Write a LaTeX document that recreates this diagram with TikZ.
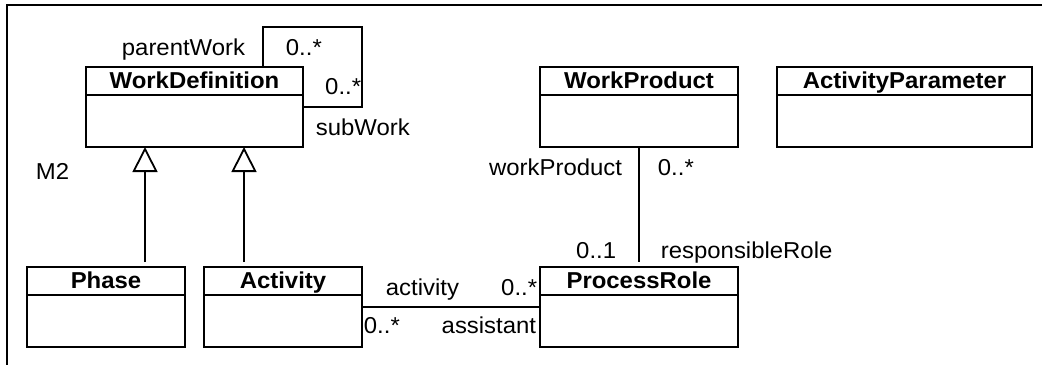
\documentclass[tikz,border=0pt]{standalone}
\usepackage{fontspec}
\setmainfont{Liberation Sans}[FakeStretch = 1.04]
\usetikzlibrary{positioning,arrows.meta}
\tikzset{
	umlhead/.style = {draw, anchor = north west, minimum height = 14pt, inner sep = 0pt, outer sep = 0pt, text height = 8.5pt, text depth = 1.5pt, font = \fontsize{11.5}{13}\selectfont\bfseries},
	umlbody/.style = {draw, minimum height = 26pt, inner sep = 0pt, outer sep = 0pt, below = 0pt of #1},
	gen/.style = {-{Triangle[open, length = 12.5pt, width = 12.5pt]}, shorten <= 2.5pt},
	lbl/.style = {inner sep = 0pt}
}
\begin{document}
\begin{tikzpicture}[x = 0.5pt, y = -0.5pt, line width = 0.9pt, font = \fontsize{11.5}{13}\selectfont]
	\useasboundingbox (0, 0) rectangle (1042, 365);
	\draw (1042, 5) -| (7, 365);
	\node[lbl, anchor = base west] (m2) at (35, 179) {M2};
		\node[umlhead, minimum width = 108.5pt] (wd) at (86, 67) {WorkDefinition};
		\node[umlbody = wd, minimum width = 108.5pt] (wdb) {};
		\node[umlhead, minimum width = 79pt] (ph) at (27, 267) {Phase};
		\node[umlbody = ph, minimum width = 79pt] (phb) {};
		\node[umlhead, minimum width = 79pt] (act) at (204, 267) {Activity};
		\node[umlbody = act, minimum width = 79pt] (actb) {};
		\node[umlhead, minimum width = 99pt] (pr) at (540, 267) {ProcessRole};
		\node[umlbody = pr, minimum width = 99pt] (prb) {};
		\node[umlhead, minimum width = 99pt] (wp) at (540, 67) {WorkProduct};
		\node[umlbody = wp, minimum width = 99pt] (wpb) {};
		\node[umlhead, minimum width = 127.5pt] (ap) at (777, 67) {ActivityParameter};
		\node[umlbody = ap, minimum width = 127.5pt] (apb) {};
	\coordinate (loop) at (362, 27);
		\draw ([xshift = 34.25pt]wd.north) |- (loop) |- ([yshift = -6pt]wdb.north east);
		\node[lbl, anchor = base east] (pw) at (246, 55) {parentWork};
		\node[lbl, anchor = base west] (pwm) at (285, 55) {0..*};
		\node[lbl, anchor = base east] (swm) at (362, 94) {0..*};
		\node[lbl, anchor = base west] (sw) at (315, 135) {subWork};
	\draw[gen] ([xshift = 19.5pt]ph.north) -- ([xshift = 19.5pt]ph.north |- wdb.south);
	\draw[gen] ([xshift = -19.5pt]act.north) -- ([xshift = -19.5pt]act.north |- wdb.south);
	\draw[shorten >= 2.5pt] (wpb.south) -- (pr.north);
		\node[lbl, anchor = base east] (wpr) at (623, 175) {workProduct};
		\node[lbl, anchor = base west] (wpm) at (657, 175) {0..*};
		\node[lbl, anchor = base east] (rrm) at (617, 258) {0..1};
		\node[lbl, anchor = base west] (rr) at (660, 258) {responsibleRole};
	\draw ([yshift = -6pt]actb.north east) -- ([yshift = -6pt]prb.north west);
		\node[lbl, anchor = base west] (ac) at (385, 295) {activity};
		\node[lbl, anchor = base east] (acm) at (538, 295) {0..*};
		\node[lbl, anchor = base west] (asm) at (363, 333) {0..*};
		\node[lbl, anchor = base east] (as) at (537, 333) {assistant};
\end{tikzpicture}
\end{document}
